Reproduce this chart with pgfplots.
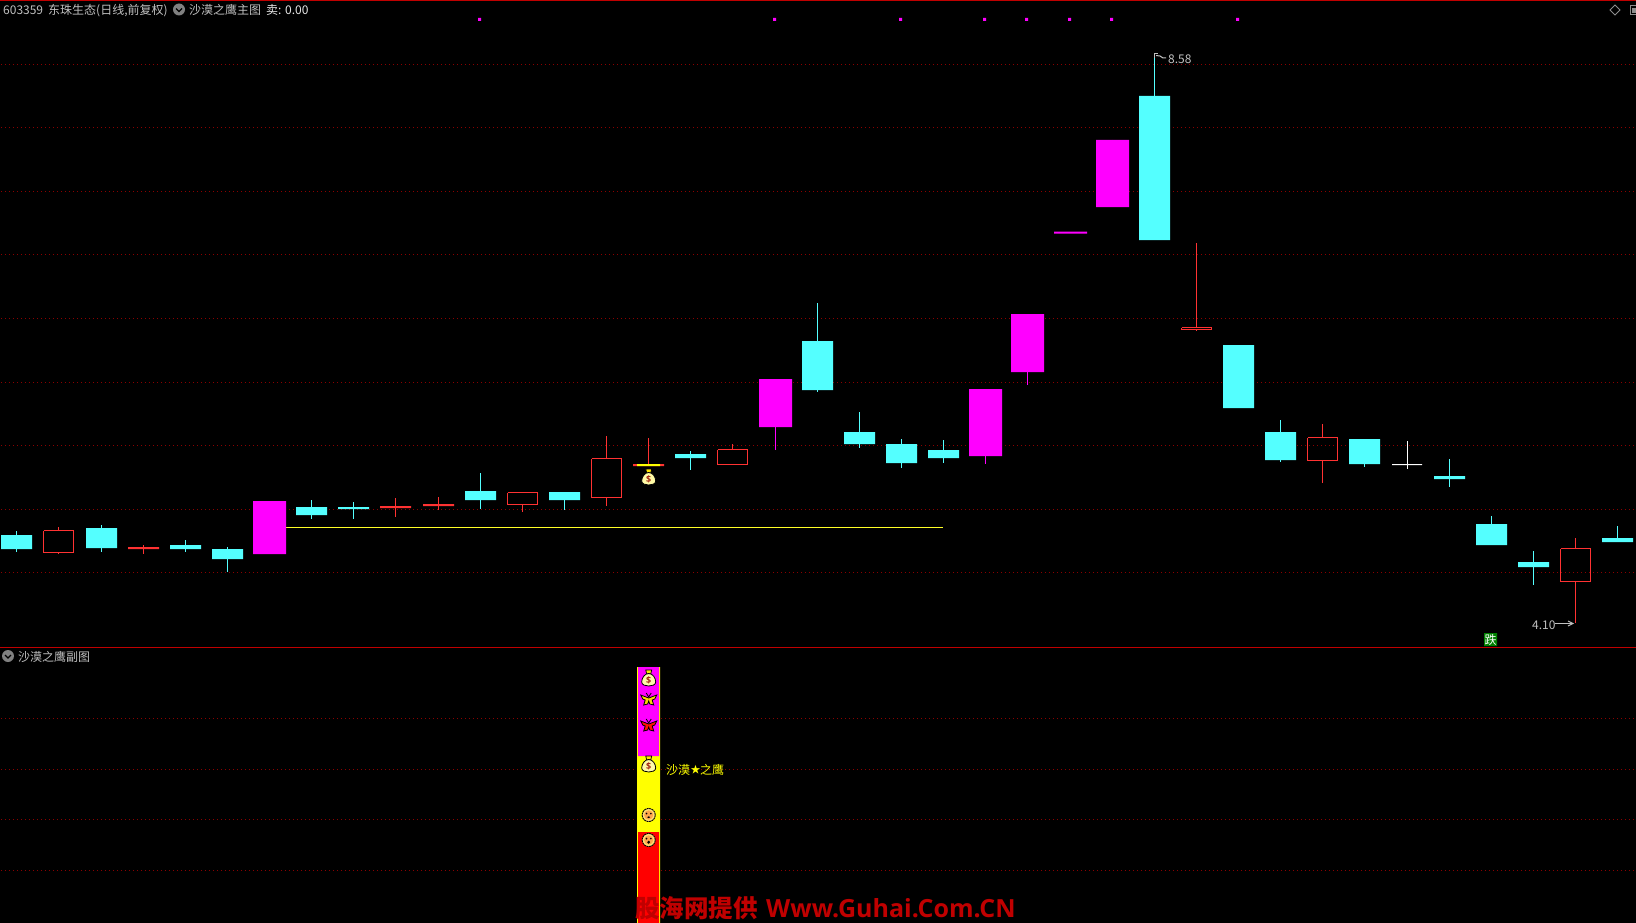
\documentclass[border=0pt]{standalone}
\usepackage{pgfplots}
\pgfplotsset{compat=1.18}
\usepackage{fontspec}
\setmainfont{Open Sans}
\newfontfamily\cjk{Noto Sans CJK SC}
\definecolor{cy}{HTML}{54FFFF}
\definecolor{rd}{HTML}{FF3232}
\definecolor{mg}{HTML}{FF00FF}
\definecolor{yl}{HTML}{FFFF00}
\definecolor{frame}{HTML}{C00000}
\definecolor{dots}{HTML}{8C0000}
\definecolor{tx}{HTML}{C0C0C0}
% filled candle: colour, left, right, top, bottom, wick x, wick top, wick bottom
\newcommand{\solid}[8]{%
  \addplot[draw=none,fill=#1,forget plot] coordinates {(#2,#4)(#3,#4)(#3,#5)(#2,#5)(#2,#4)};
  \addplot[#1,line width=1pt,forget plot] coordinates {(#6,#7)(#6,#8)};
}
% hollow candle: left, right, top, bottom, wick x, wick top, wick bottom
\newcommand{\hollow}[7]{%
  \addplot[rd,line width=1pt,forget plot] coordinates {(#5,#6)(#5,#3)};
  \addplot[rd,line width=1pt,forget plot] coordinates {(#5,#4)(#5,#7)};
  \addplot[rd,line width=1pt,forget plot] coordinates {(#1,#3)(#2,#3)(#2,#4)(#1,#4)(#1,#3)};
}
\newcommand{\gridline}[1]{\addplot[dots,line width=1pt,dash pattern=on 1pt off 3pt,forget plot] coordinates {(1,#1)(1636,#1)};}
\newcommand{\signal}[2]{\addplot[draw=none,fill=mg,forget plot] coordinates {(#1,18)(#2,18)(#2,21)(#1,21)(#1,18)};}
\newcommand{\tnode}[5]{\node[anchor=base west,inner sep=0pt,text=#4,font=\fontsize{#3}{#3}\selectfont\cjk] at (axis cs:#1,#2) {#5};}
\newcommand{\chevron}[2]{%
  \fill[black!50!white] (axis cs:#1,#2) circle[radius=6pt];
  \draw[black,line width=1.2pt] ([shift={(-3pt,1pt)}]axis cs:#1,#2) -- ([shift={(0pt,-2pt)}]axis cs:#1,#2) -- ([shift={(3pt,1pt)}]axis cs:#1,#2);
}
\newcommand{\bag}[2]{\begin{scope}[shift={(axis cs:#1,#2)}]
  \fill[yl!80!orange,draw=black,line width=.7pt] (-3pt,8pt) -- (3pt,8pt) -- (2pt,4pt) -- (-2pt,4pt) -- cycle;
  \fill[yellow!35!white,draw=black,line width=.8pt] (0pt,4.5pt) .. controls (4pt,4.5pt) and (7pt,0pt) .. (7pt,-4pt) .. controls (7pt,-7pt) and (3pt,-8pt) .. (0pt,-8pt) .. controls (-3pt,-8pt) and (-7pt,-7pt) .. (-7pt,-4pt) .. controls (-7pt,0pt) and (-4pt,4.5pt) .. (0pt,4.5pt) -- cycle;
  \node[inner sep=0pt,text=black!40!red!70!brown,font=\fontsize{9}{9}\selectfont\bfseries] at (0pt,-2.5pt) {\$};
\end{scope}}
\newcommand{\fly}[3]{\begin{scope}[shift={(axis cs:#1,#2)}]
  \fill[#3,draw=black,line width=.8pt] (0pt,1pt) -- (-8pt,4pt) -- (-6pt,0pt) -- (-3.5pt,-1pt) -- (-5pt,-6pt) -- (-1pt,-5pt) -- (0pt,-2pt) -- (1pt,-5pt) -- (5pt,-6pt) -- (3.5pt,-1pt) -- (6pt,0pt) -- (8pt,4pt) -- cycle;
  \draw[black,line width=.8pt] (-2.5pt,6pt) -- (0pt,2pt) -- (2.5pt,6pt);
\end{scope}}
\newcommand{\face}[3]{\begin{scope}[shift={(axis cs:#1,#2)}]
  \fill[orange!45!yellow!55!white,draw=black,line width=.9pt,dash pattern=on 2pt off .6pt] (0pt,0pt) circle[radius=6.6pt];
  \fill[orange!70!white] (0pt,0pt) circle[radius=4.6pt];
  \fill[black] (-2.2pt,1.4pt) circle[radius=.9pt] (2.2pt,1.4pt) circle[radius=.9pt];
  \fill[black] (0pt,-2.2pt) ellipse[x radius=1.5pt,y radius=#3pt];
\end{scope}}
\begin{document}
\begin{tikzpicture}
\begin{axis}[
  scale only axis,width=1636pt,height=923pt,
  xmin=0,xmax=1636,ymin=0,ymax=923,y dir=reverse,
  hide axis,clip=true,enlargelimits=false]
\fill[black] (axis cs:0,0) rectangle (axis cs:1636,923);
% panel frame lines
\addplot[frame,line width=1pt,forget plot] coordinates {(0,0.5)(1636,0.5)};
\addplot[frame,line width=1pt,forget plot] coordinates {(0,647.5)(1636,647.5)};
% grid main panel
\gridline{64.5}\gridline{127.5}\gridline{191.5}\gridline{254.5}\gridline{318.5}
\gridline{382.5}\gridline{445.5}\gridline{509.5}\gridline{572.5}
% grid lower panel
\gridline{718.5}\gridline{769.5}\gridline{819.5}\gridline{870.5}
% signal line
\addplot[yl!85!white,line width=1pt,forget plot] coordinates {(286,527.5)(943,527.5)};
% top signal dots
\signal{478}{481}\signal{773}{776}\signal{899}{902}\signal{983}{986}\signal{1025}{1028}\signal{1068}{1071}\signal{1110}{1113}\signal{1236}{1239}
% candles
\solid{cy}{1}{32}{535}{549}{16.5}{531}{552}
\hollow{43.5}{73.5}{530.5}{552.5}{58.5}{527}{554}
\solid{cy}{86}{117}{528}{548}{101.5}{525}{552}
\solid{rd}{128}{159}{547}{549}{143.5}{545}{554}
\solid{cy}{170}{201}{545}{549}{185.5}{540}{552}
\solid{cy}{212}{243}{549}{559}{227.5}{547}{572}
\solid{mg}{253}{286}{501}{554}{269.5}{501}{554}
\solid{cy}{296}{327}{507}{515}{311.5}{500}{519}
\solid{cy}{338}{369}{507}{509}{353.5}{502}{519}
\solid{rd}{380}{411}{506}{508}{395.5}{498}{517}
\solid{rd}{423}{454}{504}{506}{438.5}{497}{510}
\solid{cy}{465}{496}{491}{500}{480.5}{473}{509}
\hollow{507.5}{537.5}{492.5}{504.5}{522.5}{492.5}{512}
\solid{cy}{549}{580}{492}{500}{564.5}{492}{510}
\hollow{591.5}{621.5}{458.5}{497.5}{606.5}{436}{506}
\solid{rd}{633}{664}{464}{466}{648.5}{438}{466}
\addplot[draw=none,fill=yl,forget plot] coordinates {(637,464)(660,464)(660,466)(637,466)(637,464)};
\solid{cy}{675}{706}{454}{458}{690.5}{451}{470}
\hollow{717.5}{747.5}{449.5}{464.5}{732.5}{444}{464.5}
\solid{mg}{759}{792}{379}{427}{775.5}{379}{450}
\solid{cy}{802}{833}{341}{390}{817.5}{303}{392}
\solid{cy}{844}{875}{432}{444}{859.5}{412}{448}
\solid{cy}{886}{917}{444}{463}{901.5}{439}{468}
\solid{cy}{928}{959}{450}{458}{943.5}{440}{463}
\solid{mg}{969}{1002}{389}{456}{985.5}{389}{464}
\solid{mg}{1011}{1044}{314}{372}{1027.5}{314}{385}
\solid{mg}{1054}{1087}{231.5}{233.5}{1069.5}{232}{233}
\solid{mg}{1096}{1129}{140}{207}{1112.5}{140}{207}
\solid{cy}{1139}{1170}{96}{240}{1154.5}{53}{240}
\hollow{1181.5}{1211.5}{327.5}{329.5}{1196.5}{243}{331}
\solid{cy}{1223}{1254}{345}{408}{1238.5}{345}{408}
\solid{cy}{1265}{1296}{432}{460}{1280.5}{420}{462}
\hollow{1307.5}{1337.5}{437.5}{460.5}{1322.5}{424}{483}
\solid{cy}{1349}{1380}{439}{464}{1364.5}{439}{467}
\solid{white}{1392}{1422}{464}{465}{1407.5}{441}{469}
\solid{cy}{1434}{1465}{476}{479}{1449.5}{459}{487}
\solid{cy}{1476}{1507}{524}{545}{1491.5}{516}{545}
\solid{cy}{1518}{1549}{562}{567}{1533.5}{551}{585}
\hollow{1560.5}{1590.5}{548.5}{581.5}{1575.5}{538}{623}
\solid{cy}{1602}{1633}{538}{542}{1617.5}{526}{542}
% extreme labels
\addplot[tx,line width=1pt,forget plot] coordinates {(1154.5,58)(1154.5,54)(1158,54)};
\addplot[tx,line width=1pt,forget plot] coordinates {(1156,55.5)(1160,56)(1163,58)(1166,58)};
\tnode{1168}{64}{12}{tx}{8.58}
\tnode{1532}{629}{12}{tx}{4.10}
\addplot[tx,line width=1pt,forget plot] coordinates {(1555,623.5)(1573,623.5)};
\addplot[tx,line width=1pt,forget plot] coordinates {(1568,621)(1573,623.5)(1568,626)};
% sell box
\addplot[draw=none,fill={rgb,255:red,0;green,128;blue,0},forget plot] coordinates {(1484,633)(1497,633)(1497,646)(1484,646)(1484,633)};
\tnode{1484.5}{644.5}{12}{white}{跌}
% money bag on the chart
\bag{648.7}{477}
% header
\tnode{3}{14.5}{12}{tx}{603359}
\tnode{48}{14.5}{12}{tx}{东珠生态}
\tnode{96}{14.5}{12}{tx}{(日线,前复权)}
\chevron{179}{9.5}
\tnode{189}{14.5}{12}{tx}{沙漠之鹰主图}
\tnode{266}{14.5}{12}{white!90!black}{卖:}
\tnode{285}{14.5}{12}{white!90!black}{0.00}
\draw[black!45!white,line width=1pt] (axis cs:1610,10) -- (axis cs:1615,5) -- (axis cs:1620,10) -- (axis cs:1615,15) -- cycle;
\draw[black!45!white,line width=1pt] (axis cs:1630.5,5.5) rectangle (axis cs:1636,15);
\fill[black!45!white] (axis cs:1632,8) rectangle (axis cs:1636,13);
% lower panel header
\chevron{8}{656}
\tnode{18}{661}{12}{tx}{沙漠之鹰副图}
% indicator column
\addplot[draw=none,fill=yl,forget plot] coordinates {(637,667)(660,667)(660,923)(637,923)(637,667)};
\addplot[draw=none,fill=mg,forget plot] coordinates {(638,667)(659,667)(659,756)(638,756)(638,667)};
\addplot[draw=none,fill=red,forget plot] coordinates {(638,832)(659,832)(659,923)(638,923)(638,832)};
\bag{648.7}{678}
\fly{648.7}{699}{yellow!75!orange}
\fly{648.7}{725}{red!85!orange}
\bag{648.7}{764}
\face{648.7}{815}{0.9}
\face{648.7}{840}{1.6}
\tnode{666}{774}{12}{yl}{沙漠}
\node[inner sep=0pt,text=yl,font=\fontsize{10}{10}\selectfont\cjk,anchor=base] at (axis cs:695.5,773.5) {★};
\tnode{700}{774}{12}{yl}{之鹰}
% watermark
\node[anchor=base west,inner sep=0pt,text=frame,font=\fontsize{24.5}{24.5}\selectfont\cjk\bfseries] at (axis cs:635,917) {股海网提供};
\node[anchor=base west,inner sep=0pt,text=frame,font=\fontsize{25}{25}\selectfont\bfseries] at (axis cs:766,917) {Www.Guhai.Com.CN};
\end{axis}
\end{tikzpicture}
\end{document}
